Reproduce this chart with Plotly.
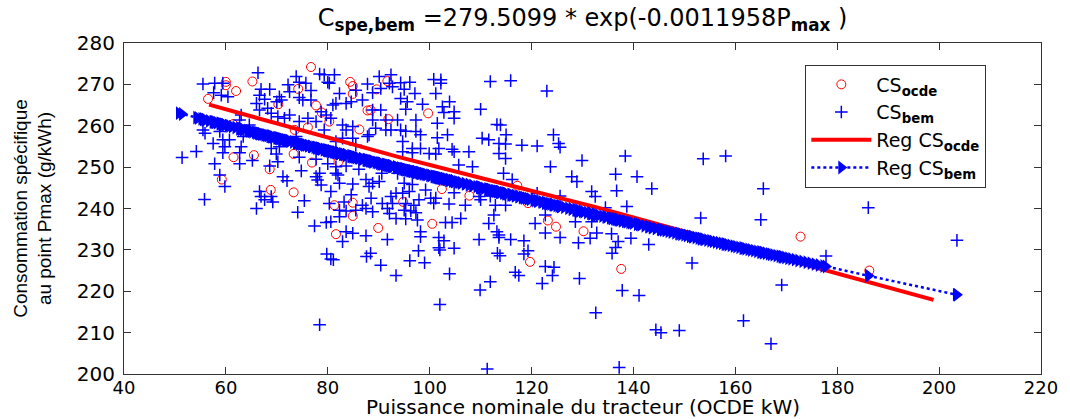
import math
import plotly.graph_objects as go

# ---------------- data ----------------
COEF_A = 279.5099      # coefficients of the fitted model printed in the title
COEF_B = -0.0011958

ocde_pts = [
    (56.5, 266.5), (60.0, 270.6), (60.0, 269.8), (62.0, 268.4), (65.2, 270.7),
    (76.7, 274.2), (74.2, 268.9), (84.4, 270.6), (84.9, 269.6), (84.9, 267.7),
    (91.7, 270.8), (89.6, 268.8), (70.3, 265.2), (77.7, 264.9), (78.8, 263.2),
    (80.3, 261.0), (76.1, 259.6), (86.2, 259.1), (87.8, 263.7), (88.4, 263.8),
    (91.9, 261.6), (61.4, 260.4), (73.5, 259.0), (99.7, 263.0), (61.5, 252.4),
    (65.5, 252.9), (73.3, 253.2), (76.9, 251.1), (82.1, 251.3), (68.6, 249.5),
    (59.2, 247.0), (68.8, 244.5), (73.3, 243.9), (81.3, 240.8), (84.9, 241.4),
    (84.9, 238.2), (81.6, 233.8), (89.9, 235.3), (102.4, 244.7), (107.8, 243.1),
    (94.8, 241.6), (119.3, 241.3), (100.5, 236.3), (123.2, 237.1), (124.8, 235.6),
    (130.2, 234.5), (117.2, 245.5), (119.7, 227.1), (137.6, 225.4), (172.8, 233.2),
    (186.3, 225.0),
]

bem_pts = [
    (55.5, 270.1), (57.8, 270.3), (59.4, 270.3), (57.6, 268.0), (59.1, 267.4), (60.4, 267.0),
    (66.3, 272.8), (66.9, 268.8), (68.6, 268.8), (66.6, 267.4), (67.6, 266.4), (70.5, 267.0),
    (70.9, 266.2), (70.0, 265.8), (72.2, 269.9), (72.5, 268.2), (73.8, 271.9), (74.4, 270.5),
    (75.7, 270.3), (74.4, 266.8), (75.1, 266.2), (76.7, 268.5), (76.7, 266.2), (78.4, 272.5),
    (79.3, 272.3), (81.3, 272.3), (80.0, 270.5), (80.3, 270.3), (82.3, 267.8), (81.6, 265.4),
    (81.0, 265.0), (83.6, 265.4), (84.6, 265.8), (85.5, 268.6), (86.8, 266.2), (87.8, 270.1),
    (88.8, 268.0), (90.1, 271.9), (90.4, 269.0), (92.4, 272.3), (92.1, 270.3), (92.7, 269.4),
    (90.4, 263.8), (88.8, 263.8), (91.4, 261.4), (93.7, 261.4), (88.8, 261.4), (89.4, 259.4),
    (91.4, 259.0), (92.4, 259.0), (87.8, 257.4), (88.1, 257.8), (84.9, 259.8), (83.6, 259.0),
    (82.9, 260.2), (81.6, 256.2), (82.9, 257.0), (84.9, 257.0), (85.5, 255.3), (80.6, 261.8),
    (79.7, 262.6), (78.7, 263.4), (77.7, 261.0), (79.3, 259.0), (76.1, 261.8), (74.4, 261.0),
    (72.5, 262.6), (73.8, 257.4), (71.5, 261.8), (70.2, 262.2), (68.9, 263.0), (68.2, 264.2),
    (66.6, 263.8), (66.0, 265.4), (64.6, 260.2), (63.0, 262.6), (62.7, 261.4), (60.7, 256.6),
    (59.4, 256.6), (57.5, 255.7), (55.9, 258.2), (58.8, 258.6), (63.4, 257.4), (63.0, 254.9),
    (59.8, 254.9), (68.9, 254.5), (70.5, 254.9), (55.5, 259.0),
    (94.3, 270.4), (96.1, 270.5), (95.0, 268.8), (97.1, 267.8), (100.8, 271.2), (102.2, 271.1),
    (102.2, 270.3), (101.2, 267.8), (94.3, 266.6), (95.6, 265.8), (98.6, 265.2), (103.9, 265.8),
    (95.3, 264.0), (102.5, 264.6), (102.8, 263.2), (104.8, 263.4), (104.8, 261.8), (97.3, 261.4),
    (101.5, 260.6), (110.0, 264.0), (111.9, 270.7), (115.9, 270.9), (123.0, 268.4), (113.2, 260.3),
    (113.9, 260.2), (94.3, 259.0), (95.3, 258.7), (97.3, 258.6), (98.2, 257.8), (101.5, 257.1),
    (103.5, 257.8), (110.3, 257.0), (111.6, 256.6), (115.0, 257.8), (113.6, 255.7), (114.9, 255.6),
    (124.3, 257.8), (125.3, 255.7), (125.6, 254.8), (118.1, 255.3), (121.1, 255.1), (94.7, 256.2),
    (96.6, 254.5), (98.2, 254.5), (101.8, 254.5), (104.4, 254.3),
    (59.4, 253.5), (62.7, 253.5), (69.9, 253.2), (74.4, 252.4), (77.7, 251.9), (80.0, 250.8),
    (81.6, 250.1), (83.6, 250.3), (86.1, 249.5), (90.6, 248.5), (57.8, 250.8), (62.7, 250.8),
    (65.2, 251.6), (68.6, 250.3), (70.2, 251.3), (71.2, 247.7), (72.0, 246.7), (74.8, 249.1),
    (77.7, 247.7), (78.4, 248.5), (78.0, 246.9), (78.7, 245.7), (81.6, 248.5), (82.0, 248.1),
    (82.3, 246.1), (84.9, 245.9), (87.5, 247.0), (88.8, 246.1), (90.1, 246.5), (88.1, 245.3),
    (93.7, 248.5), (58.8, 248.1), (59.8, 245.3), (55.8, 242.2), (66.6, 244.1), (66.9, 242.9),
    (67.6, 242.1), (68.9, 242.9), (69.2, 241.6), (75.4, 241.9), (66.0, 240.0), (74.1, 239.1),
    (80.6, 244.1), (80.3, 241.2), (83.2, 241.6), (84.6, 243.3), (82.3, 239.6), (83.6, 239.4),
    (85.5, 239.6), (87.5, 240.0), (86.8, 240.8), (88.8, 239.2), (88.5, 242.5), (90.7, 241.2),
    (92.4, 242.9), (92.7, 241.2), (93.4, 243.7), (91.7, 240.0), (92.1, 238.8), (93.4, 237.6),
    (82.3, 238.0), (79.7, 236.6), (80.6, 236.8), (77.4, 235.8), (83.6, 234.4), (84.9, 234.0),
    (87.5, 233.4), (91.7, 232.5), (82.9, 232.0),
    (94.7, 253.7), (96.6, 253.5), (99.9, 253.3), (101.2, 253.2), (104.8, 253.7), (107.7, 253.7),
    (113.6, 253.3), (114.9, 252.1), (105.7, 250.5), (108.4, 250.1), (123.7, 250.1), (129.9, 251.6),
    (114.5, 248.5), (116.2, 247.0), (127.9, 247.7), (128.9, 246.5), (95.0, 246.1), (96.6, 245.8),
    (96.0, 244.1), (94.7, 243.7), (99.2, 244.5), (100.2, 242.5), (101.2, 242.5), (100.8, 241.3),
    (104.8, 243.8), (103.8, 241.1), (107.0, 240.8), (109.7, 242.9), (110.0, 242.1), (111.9, 243.0),
    (112.9, 240.8), (114.9, 240.8), (121.1, 243.7), (125.6, 243.0), (131.8, 244.1), (132.5, 242.9),
    (95.3, 241.2), (96.9, 240.8), (97.9, 242.1), (95.0, 239.6), (96.3, 239.4), (97.3, 239.0),
    (95.3, 237.5), (97.6, 237.2), (103.1, 236.6), (104.4, 236.6), (106.1, 237.6), (111.6, 236.4),
    (112.6, 238.4), (113.6, 233.6), (113.2, 234.4), (120.7, 236.4), (122.7, 238.4), (128.6, 236.8),
    (131.8, 236.8), (98.2, 234.4), (98.2, 233.2), (101.8, 233.0), (102.8, 232.2), (109.7, 232.5),
    (113.6, 233.0), (115.9, 232.5), (118.5, 232.2), (122.7, 234.1), (125.6, 233.0), (129.2, 231.7),
    (131.5, 232.8), (101.8, 230.5), (104.8, 230.4),
    (51.4, 252.3), (54.2, 253.8), (78.4, 211.9), (79.8, 229.0), (80.6, 227.8), (81.1, 227.6),
    (87.6, 228.4), (88.4, 229.2), (90.4, 226.3), (93.4, 223.8), (96.1, 227.4), (97.8, 229.8),
    (99.0, 226.9), (102.0, 216.8), (102.0, 230.0), (103.9, 224.2), (109.9, 220.3), (111.9, 222.3),
    (111.3, 201.2), (113.3, 229.2), (113.8, 228.6), (116.8, 224.6), (117.5, 223.8), (118.5, 229.0),
    (119.3, 229.8), (122.1, 221.9), (124.1, 223.8), (122.7, 226.0), (124.4, 225.8), (129.4, 223.1),
    (132.6, 214.8), (132.8, 234.1), (134.5, 240.2), (138.7, 240.5), (135.7, 233.9), (137.0, 232.0),
    (136.5, 230.6), (135.8, 229.2), (139.5, 232.8), (143.0, 231.3), (153.2, 237.7), (165.0, 237.3),
    (186.1, 240.2), (203.5, 232.3), (177.8, 228.5), (151.5, 226.8), (169.1, 221.5), (137.8, 220.2),
    (141.1, 219.0), (161.6, 212.9), (144.4, 210.7), (145.4, 210.0), (149.0, 210.5), (167.0, 207.3),
    (137.2, 201.6), (138.4, 252.7), (153.7, 252.0), (158.1, 252.7), (165.5, 244.8), (136.5, 248.3),
    (136.7, 244.3), (140.7, 247.7), (143.6, 244.8),
]

# straight regression line of CS_ocde (end points and middle)
ocde_fit_x = [56.7, 94.0, 133.0, 198.9]
ocde_fit_y = [265.1, 252.4, 240.2, 217.9]

# extra tractor powers whose points sit hidden inside the fitted-curve band
band_x = [
    50.8, 54.5, 55.2, 56.0, 56.7, 57.4, 58.2, 58.9, 59.7, 60.4, 61.2, 61.9, 62.7, 63.4, 64.2,
    64.9, 65.7, 66.4, 67.2, 67.9, 68.7, 69.4, 70.2, 70.9, 71.7, 72.4, 73.2, 73.9, 74.7, 75.4,
    76.2, 76.9, 77.7, 78.4, 79.2, 79.9, 80.7, 81.4, 82.2, 82.9, 83.7, 84.4, 85.2, 85.9, 86.7,
    87.4, 88.2, 88.9, 89.7, 90.4, 91.2, 91.9, 92.7, 93.4, 94.2, 94.9, 95.7, 96.4, 97.2, 97.9,
    98.7, 99.4, 100.2, 100.9, 101.7, 102.4, 103.2, 103.9, 104.7, 105.4, 106.2, 106.9, 107.7,
    108.4, 109.2, 109.9, 110.7, 111.4, 112.2, 112.9, 113.7, 114.4, 115.2, 115.9, 116.7, 117.4,
    118.2, 118.9, 119.7, 120.4, 121.2, 121.9, 122.7, 123.4, 124.2, 124.9, 125.7, 126.4, 127.2,
    127.9, 128.7, 129.4, 130.2, 130.9, 131.7, 132.4, 133.2, 133.9, 134.7, 135.4, 136.2, 136.9,
    137.7, 138.4, 139.2, 139.9, 140.7, 141.4, 142.2, 142.9, 143.7, 144.4, 145.2, 145.8, 146.3,
    146.9, 147.5, 148.2, 148.8, 149.4, 150.0, 150.5, 151.1, 151.6, 152.2, 152.8, 153.3, 153.9,
    154.5, 155.1, 155.6, 156.2, 156.8, 157.4, 157.9, 158.5, 159.1, 159.7, 160.2, 160.8, 161.4,
    162.0, 162.6, 163.1, 163.7, 164.3, 164.9, 165.4, 166.0, 166.6, 167.5, 168.1, 168.7, 169.3,
    169.8, 170.4, 171.0, 171.7, 172.4, 173.2, 174.0, 174.8, 175.6, 176.4, 177.3, 186.1, 203.3,
]

x_ticks = [40, 60, 80, 100, 120, 140, 160, 180, 200, 220]
y_ticks = [200, 210, 220, 230, 240, 250, 260, 270, 280]

# ---------------- figure ----------------
ocde_x = [p[0] for p in ocde_pts]
ocde_y = [p[1] for p in ocde_pts]
bem_x = [p[0] for p in bem_pts]
bem_y = [p[1] for p in bem_pts]
# the fitted curve is evaluated at every tractor power (visible points + hidden ones)
reg_bem_x = sorted(bem_x + band_x)
reg_bem_y = [COEF_A * math.exp(COEF_B * x) for x in reg_bem_x]

FONT = "DejaVu Sans"

fig = go.Figure()
fig.add_trace(go.Scatter(
    x=ocde_x, y=ocde_y, mode="markers", name="CS<sub><b>ocde</b></sub>",
    marker=dict(symbol="circle-open", size=9, color="#ff0000", line=dict(width=1, color="#ff0000")),
))
fig.add_trace(go.Scatter(
    x=bem_x, y=bem_y, mode="markers", name="CS<sub><b>bem</b></sub>",
    marker=dict(symbol="cross-thin", size=9, color="#0000ff", line=dict(width=1.5, color="#0000ff")),
))
fig.add_trace(go.Scatter(
    x=ocde_fit_x, y=ocde_fit_y, mode="lines", name="Reg CS<sub><b>ocde</b></sub>",
    line=dict(color="#ff0000", width=4),
))
fig.add_trace(go.Scatter(
    x=reg_bem_x, y=reg_bem_y, mode="lines+markers", name="Reg CS<sub><b>bem</b></sub>",
    line=dict(color="#0000ff", width=2.5, dash="dot"),
    marker=dict(symbol="triangle-right", size=12, color="#0000ff"),
))

axis_common = dict(
    showline=True, linecolor="#333333", linewidth=1, mirror="ticks",
    ticks="inside", ticklen=7, tickcolor="#333333", tickwidth=1,
    showgrid=False, zeroline=False,
)

fig.update_layout(
    width=1070, height=419,
    margin=dict(l=124, r=26, t=43, b=45, pad=0),
    paper_bgcolor="white", plot_bgcolor="white",
    title=dict(
        text=f"C<sub><b>spe,bem</b></sub> ={COEF_A} * exp({COEF_B}P<sub><b>max</b></sub> )",
        font=dict(family=FONT, size=24, color="#000000"),
        x=0.5, xref="paper", xanchor="center",
        y=0.958, yref="container", yanchor="middle",
    ),
    xaxis=dict(range=[40, 220], tickvals=x_ticks, ticklabelstandoff=-3,
               tickfont=dict(family=FONT, size=18, color="#000000"), **axis_common),
    yaxis=dict(range=[200, 280], tickvals=y_ticks, ticklabelstandoff=4,
               tickfont=dict(family=FONT, size=20, color="#000000"), **axis_common),
    legend=dict(
        x=0.743, y=0.935, xanchor="left", yanchor="top",
        bgcolor="white", bordercolor="#333333", borderwidth=1,
        font=dict(family=FONT, size=19, color="#000000"),
        itemwidth=60,
    ),
    showlegend=True,
    annotations=[
        dict(
            text="Consommation spécifique<br>au point Pmax (g/kWh)",
            xref="paper", yref="paper", x=-0.1, y=0.5,
            xanchor="center", yanchor="middle", textangle=-90, showarrow=False,
            font=dict(family="Liberation Sans", size=19, color="#000000"),
        ),
        dict(
            text="Puissance nominale du tracteur (OCDE kW)",
            xref="paper", yref="paper", x=0.5, y=-0.1,
            xanchor="center", yanchor="middle", showarrow=False,
            font=dict(family=FONT, size=20, color="#000000"),
        ),
    ],
)

# the page body has a default 8px margin; remove it so the figure fills the window exactly
fig.write_html(
    "out.html",
    config={"displayModeBar": False},
    post_script="document.body.style.margin='0px'; document.body.style.overflow='hidden';",
)
